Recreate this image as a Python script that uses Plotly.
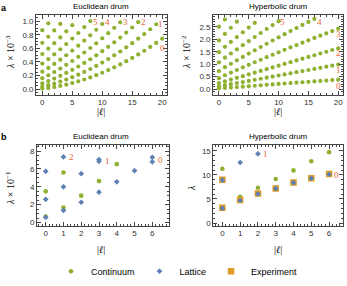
import plotly.graph_objects as go

W, H = 347, 286

# ---------------- data ----------------
ELL = list(range(21))

# Panel a, Euclidean drum: lambda x 1e-3 for radial index n (list index = |l|)
euc_n0 = [0.007, 0.017, 0.030, 0.047, 0.066, 0.088, 0.114, 0.141, 0.172, 0.205, 0.241,
          0.280, 0.321, 0.364, 0.411, 0.460, 0.511, 0.565, 0.622, 0.681, 0.743]
euc_n1 = [0.035, 0.057, 0.081, 0.110, 0.141, 0.175, 0.212, 0.253, 0.296, 0.342, 0.391,
          0.443, 0.497, 0.554, 0.615, 0.677, 0.743, 0.811, 0.882, 0.956]
euc_n2 = [0.086, 0.119, 0.155, 0.195, 0.238, 0.284, 0.333, 0.385, 0.440, 0.498, 0.559,
          0.623, 0.690, 0.760, 0.833, 0.908, 0.987]
euc_n3 = [0.160, 0.204, 0.252, 0.303, 0.357, 0.414, 0.475, 0.539, 0.606, 0.675, 0.748,
          0.824, 0.903, 0.985]
euc_n4 = [0.256, 0.312, 0.371, 0.433, 0.499, 0.568, 0.640, 0.715, 0.793, 0.875, 0.960]
euc_n5 = [0.376, 0.443, 0.513, 0.587, 0.663, 0.744, 0.827, 0.914, 1.004]
euc_n6 = [0.517, 0.596, 0.677, 0.762, 0.851, 0.942]
euc_n7 = [0.682, 0.772, 0.865, 0.961]
euc_n8 = [0.869, 0.970]

# Panel a, Hyperbolic drum: lambda x 1e-2
hyp_n0 = [0.030, 0.046, 0.063, 0.081, 0.099, 0.117, 0.135, 0.153, 0.171, 0.189, 0.206,
          0.224, 0.241, 0.259, 0.276, 0.293, 0.310, 0.327, 0.344, 0.361, 0.378]
hyp_n1 = [0.110, 0.158, 0.199, 0.240, 0.283, 0.327, 0.371, 0.415, 0.459, 0.503, 0.547,
          0.591, 0.635, 0.679, 0.723, 0.767, 0.811, 0.855, 0.899, 0.943, 0.987]
hyp_n2 = [0.240, 0.315, 0.382, 0.451, 0.521, 0.591, 0.661, 0.731, 0.801, 0.871, 0.941,
          1.011, 1.081, 1.151, 1.221, 1.291, 1.361, 1.431, 1.501, 1.571, 1.641]
hyp_n3 = [0.440, 0.557, 0.663, 0.768, 0.873, 0.976, 1.079, 1.180, 1.281, 1.381, 1.480,
          1.578, 1.675, 1.771, 1.867, 1.961, 2.055, 2.147, 2.239, 2.330, 2.420]
hyp_n4 = [0.725, 0.880, 1.019, 1.156, 1.292, 1.427, 1.560, 1.692, 1.823, 1.952, 2.080,
          2.207, 2.332, 2.456, 2.579, 2.700, 2.820]
hyp_n5 = [1.075, 1.261, 1.431, 1.599, 1.765, 1.930, 2.093, 2.255, 2.415, 2.573, 2.730]
hyp_n6 = [1.485, 1.699, 1.896, 2.090, 2.282, 2.473, 2.660]
hyp_n7 = [1.955, 2.219, 2.466, 2.711]
hyp_n8 = [2.510, 2.800]

# Panel b, Euclidean drum (lambda x 1e-1)
b_euc_cont_l = [0, 0, 1, 1, 2, 3, 4]
b_euc_cont_v = [0.68, 3.49, 1.67, 5.60, 3.01, 4.64, 6.54]
b_euc_latt_l = [0, 0, 0, 1, 1, 1, 2, 2, 3, 3, 3, 4, 5, 6, 6]
b_euc_latt_v = [0.58, 2.60, 5.73, 1.35, 4.00, 7.35, 2.27, 5.47, 3.40, 6.85, 7.05, 4.56, 5.80, 6.80, 7.30]

# Panel b, Hyperbolic drum (lambda)
b_hyp_cont_l = [0, 1, 2, 3, 4, 5, 6]
b_hyp_cont_v = [11.3, 5.45, 7.35, 9.15, 10.95, 12.85, 14.75]
b_hyp_latt_l = [0, 0, 1, 1, 2, 2, 3, 4, 5, 6]
b_hyp_latt_v = [3.10, 8.95, 4.70, 12.6, 6.05, 14.4, 7.15, 8.40, 9.30, 10.15]
b_hyp_exp_l = [0, 0, 1, 2, 3, 4, 5, 6]
b_hyp_exp_v = [3.20, 9.00, 4.80, 6.15, 7.20, 8.45, 9.30, 10.20]

mode_labels = ["0", "1", "2", "3", "4", "5"]

GREEN = "#8FB131"
BLUE = "#5E81B5"
ORANGE = "#E19C24"
LABEL_RED = "#EB6235"
SANS = "Liberation Sans, Arial, sans-serif"
SERIF = "Liberation Serif, Times New Roman, serif"

fig = go.Figure()

def px_x(x):
    return x / W

def px_y(y):
    return 1 - y / H

euc_modes = [euc_n0, euc_n1, euc_n2, euc_n3, euc_n4, euc_n5, euc_n6, euc_n7, euc_n8]
hyp_modes = [hyp_n0, hyp_n1, hyp_n2, hyp_n3, hyp_n4, hyp_n5, hyp_n6, hyp_n7, hyp_n8]

for modes, xa, ya in [(euc_modes, "x", "y"), (hyp_modes, "x2", "y2")]:
    xs, ys = [], []
    for m in modes:
        xs += ELL[:len(m)]
        ys += m
    fig.add_trace(go.Scatter(x=xs, y=ys, mode="markers", xaxis=xa, yaxis=ya,
                             marker=dict(color=GREEN, size=4.2, line=dict(width=0)),
                             showlegend=False))

# panel b Euclidean
fig.add_trace(go.Scatter(x=b_euc_cont_l, y=b_euc_cont_v, mode="markers", xaxis="x3", yaxis="y3",
                         marker=dict(color=GREEN, size=4.6, line=dict(width=0)), showlegend=False))
fig.add_trace(go.Scatter(x=b_euc_latt_l, y=b_euc_latt_v, mode="markers", xaxis="x3", yaxis="y3",
                         marker=dict(color=BLUE, size=4.4, symbol="diamond", line=dict(width=0)),
                         showlegend=False))
# panel b Hyperbolic (carries the legend)
fig.add_trace(go.Scatter(x=b_hyp_cont_l, y=b_hyp_cont_v, mode="markers", xaxis="x4", yaxis="y4",
                         name="Continuum", legendrank=1,
                         marker=dict(color=GREEN, size=4.6, line=dict(width=0))))
fig.add_trace(go.Scatter(x=b_hyp_exp_l, y=b_hyp_exp_v, mode="markers", xaxis="x4", yaxis="y4",
                         name="Experiment", legendrank=3,
                         marker=dict(color=ORANGE, size=6.5, symbol="square", line=dict(width=0))))
fig.add_trace(go.Scatter(x=b_hyp_latt_l, y=b_hyp_latt_v, mode="markers", xaxis="x4", yaxis="y4",
                         name="Lattice", legendrank=2,
                         marker=dict(color=BLUE, size=4.4, symbol="diamond", line=dict(width=0))))

def axis(domain, rng, tickvals, fmt, minor_dtick, anchor):
    return dict(domain=domain, range=rng, tickvals=tickvals, tickformat=fmt,
                showline=True, linecolor="#444", linewidth=0.8, mirror="allticks",
                ticks="inside", ticklen=4, tickwidth=0.7, tickcolor="#444",
                showgrid=False, zeroline=False, anchor=anchor,
                tickfont=dict(family=SANS, size=8, color="#333"),
                minor=dict(ticks="inside", ticklen=2, tickwidth=0.6, tickcolor="#444",
                           dtick=minor_dtick, tick0=0, showgrid=False))

ya_dom = [px_y(97), px_y(15)]
yb_dom = [px_y(230.5), px_y(148.3)]
fig.update_layout(
    xaxis=axis([px_x(36), px_x(167)], [-1.05, 20.8], [0, 5, 10, 15, 20], "d", 1, "y"),
    yaxis=axis(ya_dom, [-0.087, 1.097], [0, 0.2, 0.4, 0.6, 0.8, 1.0], ".1f", 0.05, "x"),
    xaxis2=axis([px_x(213), px_x(343)], [-1.0, 20.8], [0, 5, 10, 15, 20], "d", 1, "y2"),
    yaxis2=axis(ya_dom, [-0.236, 2.99], [0, 0.5, 1.0, 1.5, 2.0, 2.5], ".1f", 0.1, "x2"),
    xaxis3=axis([px_x(37), px_x(169)], [-0.49, 6.94], [0, 1, 2, 3, 4, 5, 6], "d", 0.2, "y3"),
    yaxis3=axis(yb_dom, [-0.35, 8.66], [0, 2, 4, 6, 8], "d", 0.5, "x3"),
    xaxis4=axis([px_x(213.3), px_x(343.3)], [-0.51, 6.8], [0, 1, 2, 3, 4, 5, 6], "d", 0.2, "y4"),
    yaxis4=axis(yb_dom, [-0.55, 16.2], [0, 5, 10, 15], "d", 1, "x4"),
)

ann = []
def text_px(x, y, t, size=8, family=SANS, color="black", angle=0, xanchor="center"):
    ann.append(dict(x=px_x(x), y=px_y(y), xref="paper", yref="paper", text=t, showarrow=False,
                    font=dict(size=size, family=family, color=color), textangle=angle,
                    xanchor=xanchor, yanchor="middle"))

text_px(4, 8, "<b>a</b>", size=9)
text_px(4, 140, "<b>b</b>", size=9)
text_px(101, 7, "Euclidean drum")
text_px(278, 7, "Hyperbolic drum")
text_px(101, 139, "Euclidean drum")
text_px(278, 139, "Hyperbolic drum")
for xx in (101, 278):
    text_px(xx, 114, "|<i>ℓ</i>|", size=10, family=SERIF)
    text_px(xx, 255, "|<i>ℓ</i>|", size=10, family=SERIF)
text_px(10, 53, "<i>λ</i> × 10<sup>−3</sup>", size=10, family=SERIF, angle=-90)
text_px(186, 53, "<i>λ</i> × 10<sup>−2</sup>", size=10, family=SERIF, angle=-90)
text_px(10, 192, "<i>λ</i> × 10<sup>−1</sup>", size=10, family=SERIF, angle=-90)
text_px(192, 192, "<i>λ</i>", size=10, family=SERIF, angle=-90)

def mode_label(xref, yref, x, y, t):
    ann.append(dict(x=x, y=y, xref=xref, yref=yref, text=t, showarrow=False,
                    font=dict(size=9, family=SERIF, color=LABEL_RED),
                    xanchor="center", yanchor="middle"))

euc_label_pos = [(20.0, 0.60), (19.75, 0.96), (16.8, 0.985), (13.8, 0.985), (10.8, 0.985), (8.9, 0.985)]
hyp_label_pos = [(20.0, 0.11), (20.0, 0.76), (20.0, 1.44), (20.0, 2.21), (16.9, 2.69), (10.6, 2.69)]
for t, (x, y) in zip(mode_labels, euc_label_pos):
    mode_label("x", "y", x, y, t)
for t, (x, y) in zip(mode_labels, hyp_label_pos):
    mode_label("x2", "y2", x, y, t)
mode_label("x3", "y3", 1.45, 7.3, "2")
mode_label("x3", "y3", 3.47, 6.9, "1")
mode_label("x3", "y3", 6.45, 7.05, "0")
mode_label("x4", "y4", 2.42, 14.3, "1")
mode_label("x4", "y4", 6.43, 10.0, "0")

fig.update_layout(
    annotations=ann,
    width=W, height=H,
    margin=dict(l=0, r=0, t=0, b=0),
    paper_bgcolor="white", plot_bgcolor="white",
    showlegend=True,
    legend=dict(orientation="h", x=0.51, xanchor="center", y=px_y(277), yanchor="middle",
                font=dict(size=9, family=SANS, color="black"), itemwidth=30,
                bgcolor="rgba(0,0,0,0)", tracegroupgap=0),
)

fig.write_html("out.html", config={"displayModeBar": False},
               post_script="document.body.style.margin='0';document.body.style.overflow='hidden';")
